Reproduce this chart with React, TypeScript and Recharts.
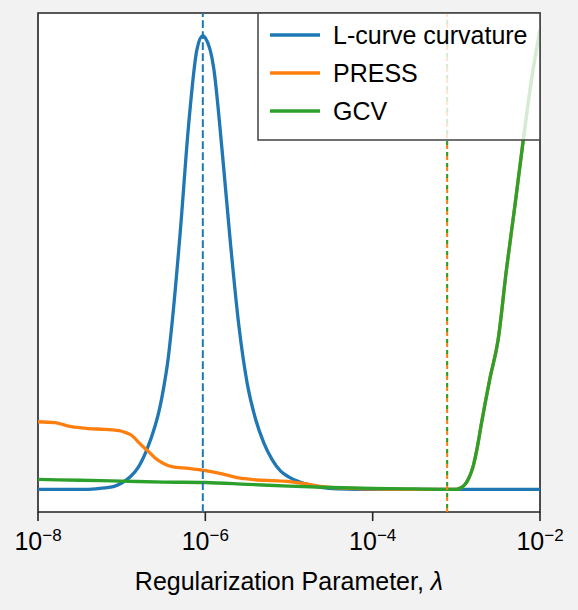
import React from 'react';
import {
  LineChart,
  Line,
  XAxis,
  YAxis,
  CartesianGrid,
  ReferenceLine,
  ReferenceArea,
} from 'recharts';

// page looks like a matplotlib figure: grey canvas, no body margin
document.body.style.margin = '0';
document.body.style.background = '#f2f2f2';

const FONT = '"Liberation Sans", Arial, Helvetica, sans-serif';

// x values are log10(lambda)
const xTicks = [-8, -6, -4, -2];

// L-curve curvature (normalised)
const curvExp = [-8.0, -7.6, -7.4, -7.2, -7.1, -7.0, -6.9, -6.8, -6.7, -6.6, -6.55, -6.5, -6.45, -6.4, -6.3, -6.2, -6.1, -6.03, -6.0, -5.9, -5.8, -5.7, -5.6, -5.5, -5.4, -5.3, -5.2, -5.1, -5.0, -4.9, -4.8, -4.6, -4.4, -4.2, -3.0, -2.0];
const curvVal = [0.0, 0.0, 0.0, 0.003, 0.006, 0.014, 0.027, 0.049, 0.087, 0.14, 0.175, 0.222, 0.28, 0.362, 0.567, 0.803, 0.97, 1.0, 0.995, 0.929, 0.748, 0.543, 0.362, 0.234, 0.155, 0.102, 0.065, 0.04, 0.027, 0.018, 0.012, 0.004, 0.001, 0.0, 0.0, 0.0];

// PRESS (normalised)
const pressExp = [-8.0, -7.8, -7.6, -7.4, -7.2, -7.0, -6.95, -6.9, -6.85, -6.8, -6.75, -6.7, -6.6, -6.5, -6.4, -6.2, -6.0, -5.8, -5.6, -5.4, -5.2, -5.0, -4.8, -4.6, -4.4, -4.0, -3.5, -3.1, -3.0, -2.95, -2.9, -2.85, -2.8, -2.75, -2.7, -2.6, -2.5, -2.4, -2.3, -2.2, -2.1, -2.0];
const pressVal = [0.149, 0.147, 0.138, 0.134, 0.132, 0.128, 0.125, 0.121, 0.114, 0.104, 0.095, 0.087, 0.069, 0.057, 0.05, 0.046, 0.041, 0.034, 0.025, 0.021, 0.019, 0.017, 0.012, 0.006, 0.003, 0.001, 0.0, 0.0, 0.0, 0.003, 0.01, 0.025, 0.05, 0.092, 0.145, 0.243, 0.33, 0.486, 0.625, 0.77, 0.905, 1.013];

// GCV (normalised)
const gcvExp = [-8.0, -7.5, -7.0, -6.5, -6.0, -5.5, -5.0, -4.5, -4.0, -3.5, -3.1, -3.0, -2.95, -2.9, -2.85, -2.8, -2.75, -2.7, -2.6, -2.5, -2.4, -2.3, -2.2, -2.1, -2.0];
const gcvVal = [0.022, 0.02, 0.018, 0.016, 0.015, 0.011, 0.007, 0.004, 0.002, 0.001, 0.0, 0.0, 0.003, 0.01, 0.025, 0.05, 0.092, 0.145, 0.243, 0.33, 0.486, 0.625, 0.77, 0.905, 1.013];

// chosen lambdas (log10)
const curvOpt = -6.03;
const pressOpt = -3.11;
const gcvOpt = -3.11;

const series = [
  { name: 'L-curve curvature', color: '#1f77b4', data: curvExp.map((e, i) => ({ e, v: curvVal[i] })) },
  { name: 'PRESS', color: '#ff7f0e', data: pressExp.map((e, i) => ({ e, v: pressVal[i] })) },
  { name: 'GCV', color: '#2ca02c', data: gcvExp.map((e, i) => ({ e, v: gcvVal[i] })) },
];

const LogTick = (props: any) => {
  const { x, payload } = props;
  return (
    <text x={x} y={550} textAnchor="middle" fontFamily={FONT} fontSize={25} fill="#000">
      10
      <tspan dy={-9} fontSize={17}>{'\u2212' + Math.abs(payload.value)}</tspan>
    </text>
  );
};

const AxisTitle = (props: any) => {
  const vb = props.viewBox || { x: 38, width: 502 };
  return (
    <text x={vb.x + vb.width / 2} y={590} textAnchor="middle" fontFamily={FONT} fontSize={25} fill="#000">
      Regularization Parameter, <tspan fontStyle="italic">λ</tspan>
    </text>
  );
};

export default function App() {
  return (
    <div style={{ position: 'relative', width: 578, height: 610 }}>
      <LineChart width={578} height={610} margin={{ top: 13, right: 38, left: 38, bottom: 0 }}>
        <ReferenceArea x1={-8} x2={-2} y1={-0.05} y2={1.05} fill="#ffffff" fillOpacity={1} stroke="none" />
        <CartesianGrid horizontal={false} stroke="#e8e8e8" strokeWidth={1.6} />
        <XAxis
          dataKey="e"
          type="number"
          domain={[-8, -2]}
          ticks={xTicks}
          allowDataOverflow
          axisLine={false}
          tickLine={{ stroke: '#222', strokeWidth: 1.6 }}
          tickSize={9}
          tick={<LogTick />}
          height={98}
          label={<AxisTitle />}
        />
        <YAxis type="number" domain={[-0.05, 1.05]} allowDataOverflow hide width={0} />
        {series.map((s) => (
          <Line
            key={s.name}
            data={s.data}
            dataKey="v"
            name={s.name}
            type="monotone"
            stroke={s.color}
            strokeWidth={3.3}
            dot={false}
            activeDot={false}
            isAnimationActive={false}
          />
        ))}
        <ReferenceLine x={curvOpt} stroke="#1f77b4" strokeWidth={2} strokeDasharray="7.7 3.3" />
        <ReferenceLine x={pressOpt} stroke="#ff7f0e" strokeWidth={2} strokeDasharray="7.7 3.3" />
        <ReferenceLine x={gcvOpt} stroke="#2ca02c" strokeWidth={2} strokeDasharray="4 7" strokeDashoffset={-4} />
        <ReferenceArea x1={-8} x2={-2} y1={-0.05} y2={1.05} fill="none" stroke="#222" strokeWidth={1.6} />
      </LineChart>
      {/* legend box, semi-transparent like matplotlib's framealpha */}
      <svg width={578} height={610} style={{ position: 'absolute', left: 0, top: 0, pointerEvents: 'none' }}>
        <rect x={258} y={13} width={282} height={127} fill="#ffffff" fillOpacity={0.8} stroke="#4d4d4d" strokeWidth={1.6} />
        {series.map((s, i) => (
          <g key={s.name}>
            <line x1={270} x2={320} y1={35 + i * 38} y2={35 + i * 38} stroke={s.color} strokeWidth={3.3} />
            <text x={333} y={44 + i * 38} fontFamily={FONT} fontSize={25} fill="#000">
              {s.name}
            </text>
          </g>
        ))}
      </svg>
    </div>
  );
}
